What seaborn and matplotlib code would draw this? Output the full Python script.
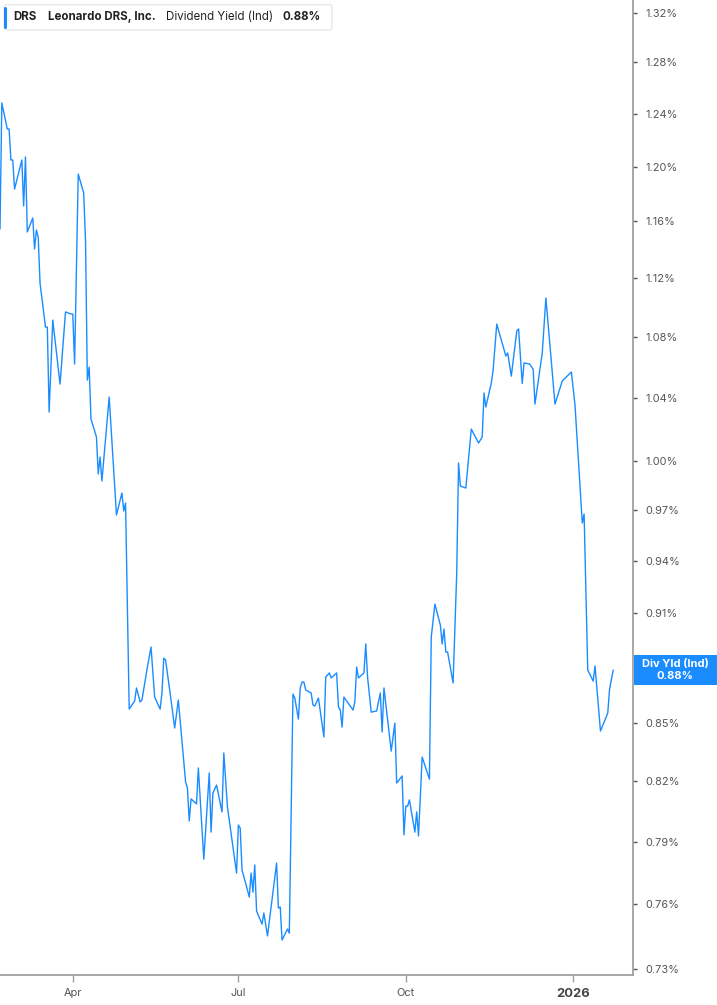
import matplotlib
matplotlib.use("Agg")
import matplotlib.pyplot as plt
import matplotlib.dates as mdates
import matplotlib.ticker as mticker
from matplotlib.patches import FancyBboxPatch, Rectangle
from matplotlib.transforms import IdentityTransform
import pandas as pd
import seaborn as sns

# ---- data ----
dates = [
    "2025-02-20", "2025-02-21", "2025-02-24", "2025-02-25", "2025-02-26", "2025-02-27",
    "2025-02-28", "2025-03-04", "2025-03-05", "2025-03-06", "2025-03-07", "2025-03-10",
    "2025-03-11", "2025-03-12", "2025-03-13", "2025-03-14", "2025-03-17", "2025-03-18",
    "2025-03-19", "2025-03-21", "2025-03-25", "2025-03-28", "2025-03-31", "2025-04-01",
    "2025-04-02", "2025-04-04", "2025-04-07", "2025-04-08", "2025-04-09", "2025-04-10",
    "2025-04-11", "2025-04-14", "2025-04-15", "2025-04-16", "2025-04-17", "2025-04-21",
    "2025-04-25", "2025-04-28", "2025-04-29", "2025-04-30", "2025-05-02", "2025-05-05",
    "2025-05-06", "2025-05-08", "2025-05-09", "2025-05-12", "2025-05-14", "2025-05-16",
    "2025-05-19", "2025-05-20", "2025-05-21", "2025-05-22", "2025-05-25", "2025-05-27",
    "2025-05-29", "2025-06-02", "2025-06-03", "2025-06-04", "2025-06-05", "2025-06-08",
    "2025-06-09", "2025-06-12", "2025-06-15", "2025-06-16", "2025-06-17", "2025-06-19",
    "2025-06-22", "2025-06-23", "2025-06-25", "2025-06-30", "2025-07-01", "2025-07-02",
    "2025-07-03", "2025-07-07", "2025-07-08", "2025-07-09", "2025-07-10", "2025-07-11",
    "2025-07-14", "2025-07-15", "2025-07-17", "2025-07-22", "2025-07-23", "2025-07-24",
    "2025-07-25", "2025-07-28", "2025-07-29", "2025-07-31", "2025-08-01", "2025-08-03",
    "2025-08-04", "2025-08-05", "2025-08-06", "2025-08-07", "2025-08-10", "2025-08-11",
    "2025-08-12", "2025-08-14", "2025-08-17", "2025-08-18", "2025-08-20", "2025-08-21",
    "2025-08-24", "2025-08-25", "2025-08-26", "2025-08-27", "2025-08-28", "2025-09-02",
    "2025-09-03", "2025-09-04", "2025-09-05", "2025-09-08", "2025-09-09", "2025-09-10",
    "2025-09-12", "2025-09-15", "2025-09-17", "2025-09-18", "2025-09-19", "2025-09-23",
    "2025-09-25", "2025-09-26", "2025-09-29", "2025-09-30", "2025-10-01", "2025-10-02",
    "2025-10-03", "2025-10-06", "2025-10-07", "2025-10-08", "2025-10-10", "2025-10-14",
    "2025-10-15", "2025-10-17", "2025-10-20", "2025-10-21", "2025-10-22", "2025-10-23",
    "2025-10-24", "2025-10-27", "2025-10-29", "2025-10-30", "2025-10-31", "2025-11-03",
    "2025-11-06", "2025-11-10", "2025-11-12", "2025-11-13", "2025-11-14", "2025-11-17",
    "2025-11-18", "2025-11-20", "2025-11-25", "2025-11-26", "2025-11-28", "2025-12-01",
    "2025-12-02", "2025-12-04", "2025-12-05", "2025-12-08", "2025-12-10", "2025-12-11",
    "2025-12-15", "2025-12-17", "2025-12-22", "2025-12-26", "2025-12-31", "2026-01-02",
    "2026-01-06", "2026-01-07", "2026-01-09", "2026-01-12", "2026-01-13", "2026-01-16",
    "2026-01-20", "2026-01-21", "2026-01-23",
]
yield_pct = [
    1.1545, 1.2482, 1.2283, 1.2283, 1.2049, 1.2049,
    1.1834, 1.2049, 1.1711, 1.2072, 1.1524, 1.1624,
    1.1403, 1.1538, 1.1488, 1.1165, 1.0865, 1.0865,
    1.0308, 1.0912, 1.0488, 1.0967, 1.0953, 1.0953,
    1.0619, 1.1945, 1.1805, 1.1460, 1.0514, 1.0599,
    1.0264, 1.0150, 0.9920, 1.0025, 0.9877, 1.0404,
    0.9671, 0.9804, 0.9695, 0.9743, 0.8576, 0.8619,
    0.8689, 0.8614, 0.8624, 0.8802, 0.8912, 0.8640,
    0.8576, 0.8662, 0.8851, 0.8841, 0.8624, 0.8476,
    0.8624, 0.8197, 0.8167, 0.8002, 0.8112, 0.8087,
    0.8269, 0.7815, 0.8243, 0.7947, 0.8141, 0.8182,
    0.8047, 0.8346, 0.8071, 0.7748, 0.7982, 0.7967,
    0.7763, 0.7634, 0.7748, 0.7657, 0.7787, 0.7568,
    0.7507, 0.7559, 0.7452, 0.7796, 0.7582, 0.7587,
    0.7433, 0.7484, 0.7465, 0.8656, 0.8635, 0.8523,
    0.8689, 0.8721, 0.8721, 0.8678, 0.8662, 0.8598,
    0.8592, 0.8635, 0.8429, 0.8748, 0.8770, 0.8743,
    0.8770, 0.8587, 0.8571, 0.8481, 0.8640, 0.8571,
    0.8614, 0.8802, 0.8743, 0.8770, 0.8929, 0.8748,
    0.8560, 0.8566, 0.8662, 0.8455, 0.8689, 0.8356,
    0.8502, 0.8192, 0.8228, 0.7933, 0.8076, 0.8076,
    0.8107, 0.7947, 0.8047, 0.7928, 0.8325, 0.8212,
    0.8967, 0.9152, 0.9034, 0.8929, 0.9012, 0.8884,
    0.8884, 0.8716, 0.9330, 0.9988, 0.9846, 0.9834,
    1.0200, 1.0112, 1.0150, 1.0430, 1.0340, 1.0495,
    1.0580, 1.0885, 1.0672, 1.0692, 1.0540, 1.0838,
    1.0852, 1.0492, 1.0626, 1.0619, 1.0586, 1.0359,
    1.0692, 1.1062, 1.0359, 1.0508, 1.0567, 1.0353,
    0.9623, 0.9677, 0.8786, 0.8726, 0.8808, 0.8460,
    0.8555, 0.8683, 0.8786,
]
y_ticks = [1.32, 1.28, 1.24, 1.20, 1.16, 1.12, 1.08, 1.04, 1.00, 0.97,
           0.94, 0.91, 0.85, 0.82, 0.79, 0.76, 0.73]
x_tick_dates = ["2025-04-01", "2025-07-01", "2025-10-01", "2026-01-01"]
x_tick_labels = ["Apr", "Jul", "Oct", "2026"]
ticker_symbol = "DRS"
company = "Leonardo DRS, Inc."
metric = "Dividend Yield (Ind)"
last_label = "0.88%"
badge_title = "Div Yld (Ind)"

BLUE = "#1a8cff"
W, H = 717, 1005

sns.set_theme(style="white")
plt.rcParams['font.family'] = ['Inter', 'DejaVu Sans']

fig = plt.figure(figsize=(W / 100, H / 100), dpi=100)
ax = fig.add_axes([0, 30 / H, 632.7 / W, 1 - 30 / H])

df = pd.DataFrame({"date": pd.to_datetime(dates), "yield": yield_pct})
sns.lineplot(data=df, x="date", y="yield", ax=ax, color=BLUE, linewidth=1.0)

ax.set_yscale("log")
ax.set_ylim(0.7274, 1.3304)
ax.set_xlim(pd.Timestamp("2025-02-20"), pd.Timestamp("2026-02-02 17:00"))
ax.set_xlabel("")
ax.set_ylabel("")

ax.yaxis.tick_right()
ax.yaxis.set_minor_locator(mticker.NullLocator())
ax.yaxis.set_major_locator(mticker.FixedLocator(y_ticks))
ax.yaxis.set_major_formatter(mticker.FixedFormatter([f"{t:.2f}%" for t in y_ticks]))

ax.xaxis.set_major_locator(mticker.FixedLocator([mdates.date2num(pd.Timestamp(d)) for d in x_tick_dates]))
ax.xaxis.set_major_formatter(mticker.FixedFormatter(x_tick_labels))
ax.xaxis.set_minor_locator(mticker.NullLocator())

for s in ["top", "left"]:
    ax.spines[s].set_visible(False)
for s in ["right", "bottom"]:
    ax.spines[s].set_visible(True)
    ax.spines[s].set_color("#a0a0a0")
    ax.spines[s].set_linewidth(1.3)

ax.tick_params(axis="y", which="major", direction="out", length=3, width=1,
               color="#555555", pad=6, labelsize=7.9, labelcolor="#555555",
               right=True, left=False)
ax.tick_params(axis="x", which="major", direction="out", length=5, width=1,
               color="#a0a0a0", pad=4, labelsize=7.9, labelcolor="#555555", bottom=True)
for lbl in ax.get_xticklabels():
    if lbl.get_text() == "2026":
        lbl.set_fontweight("bold")
        lbl.set_fontsize(9.3)
        lbl.set_color("#444444")

ax.grid(False)

# ---- header box (top-left) ----
ident = IdentityTransform()
hdr = FancyBboxPatch((4, H - 30), 328, 25.3, boxstyle="round,pad=0,rounding_size=3",
                     transform=ident, facecolor="white", edgecolor="#e2e2e2",
                     linewidth=0.8, zorder=5)
fig.patches.append(hdr)
bar = FancyBboxPatch((4, H - 29), 3, 22, boxstyle="round,pad=0,rounding_size=1.5",
                     transform=ident, facecolor=BLUE, edgecolor="none", zorder=6)
fig.patches.append(bar)

ty = 1 - 16.8 / H
fs = 8.3
fig.text(13.3 / W, ty, ticker_symbol, fontsize=fs, fontweight="bold", color="#222222", va="center", ha="left", zorder=7)
fig.text(48.3 / W, ty, company, fontsize=fs, fontweight="bold", color="#222222", va="center", ha="left", zorder=7)
fig.text(165.7 / W, ty, metric, fontsize=fs, color="#222222", va="center", ha="left", zorder=7)
fig.text(282.3 / W, ty, last_label, fontsize=fs, fontweight="bold", color="#222222", va="center", ha="left", zorder=7)

# ---- last value badge on the right axis ----
last_x = mdates.date2num(df["date"].iloc[-1])
last_y = df["yield"].iloc[-1]
yd = ax.transData.transform((last_x, last_y))[1]
badge = Rectangle((633.5, yd - 15), W - 633.5, 30, transform=ident,
                  facecolor=BLUE, edgecolor="none", zorder=8)
fig.patches.append(badge)
fig.text(675 / W, (yd + 5.8) / H, badge_title, fontsize=8, fontweight="bold", color="white",
         ha="center", va="center", zorder=9)
fig.text(675 / W, (yd - 5.8) / H, last_label, fontsize=8, fontweight="bold", color="white",
         ha="center", va="center", zorder=9)

fig.savefig("out.png", dpi=100)
